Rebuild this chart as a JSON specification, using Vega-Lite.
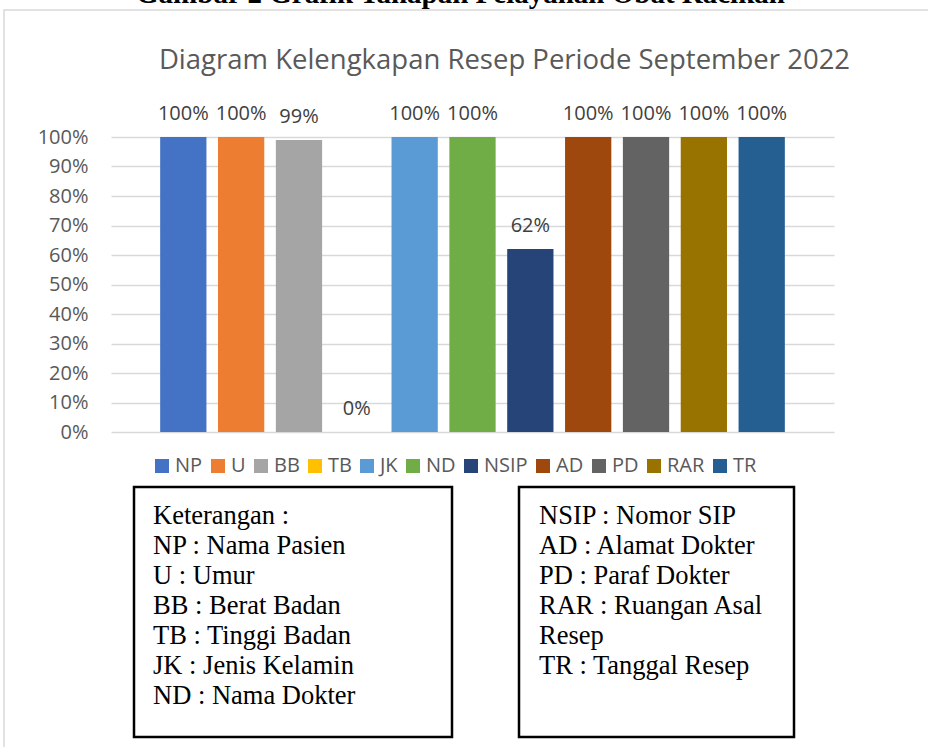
{
  "$schema": "https://vega.github.io/schema/vega-lite/v6.json",
  "autosize": {"type": "pad"},
  "padding": {"left": 3, "top": -20, "right": 0, "bottom": 0},
  "background": "white",
  "title": {
    "text": "Gambar 2 Grafik Tahapan Pelayanan Obat Racikan",
    "font": "Liberation Serif",
    "fontSize": 29,
    "fontWeight": "bold",
    "color": "#000000",
    "anchor": "middle",
    "dx": -22,
    "offset": 0
  },
  "config": {
    "view": {"stroke": null},
    "font": "Open Sans"
  },
  "resolve": {"legend": {"color": "independent"}, "scale": {"color": "independent"}},
  "bounds": "flush",
  "spacing": 55,
  "vconcat": [
    {
      "width": 723,
      "height": 295,
      "title": {
        "text": "Diagram Kelengkapan Resep Periode September 2022",
        "font": "Open Sans",
        "fontSize": 27.5,
        "fontWeight": "normal",
        "color": "#595959",
        "anchor": "middle",
        "frame": "group",
        "dx": 32,
        "offset": 30
      },
      "data": {
        "values": [
          {"kategori": "NP", "nilai": 1.0},
          {"kategori": "U", "nilai": 1.0},
          {"kategori": "BB", "nilai": 0.99},
          {"kategori": "TB", "nilai": 0.0},
          {"kategori": "JK", "nilai": 1.0},
          {"kategori": "ND", "nilai": 1.0},
          {"kategori": "NSIP", "nilai": 0.62},
          {"kategori": "AD", "nilai": 1.0},
          {"kategori": "PD", "nilai": 1.0},
          {"kategori": "RAR", "nilai": 1.0},
          {"kategori": "TR", "nilai": 1.0}
        ]
      },
      "encoding": {
        "x": {
          "field": "kategori",
          "type": "nominal",
          "sort": null,
          "scale": {"paddingInner": 0.2, "paddingOuter": 0.85},
          "axis": null
        },
        "y": {
          "field": "nilai",
          "type": "quantitative",
          "scale": {"domain": [0, 1], "nice": false},
          "axis": {
            "title": null,
            "format": ".0%",
            "values": [0, 0.1, 0.2, 0.3, 0.4, 0.5, 0.6, 0.7, 0.8, 0.9, 1.0],
            "domain": false,
            "ticks": false,
            "labelPadding": 23,
            "labelFont": "Open Sans",
            "labelFontSize": 20,
            "labelColor": "#595959",
            "gridColor": "#D9D9D9",
            "gridWidth": 1.5
          }
        }
      },
      "layer": [
        {
          "mark": {"type": "bar"},
          "encoding": {
            "color": {
              "field": "kategori",
              "type": "nominal",
              "sort": null,
              "scale": {
                "domain": ["NP", "U", "BB", "TB", "JK", "ND", "NSIP", "AD", "PD", "RAR", "TR"],
                "range": ["#4472C4", "#ED7D31", "#A5A5A5", "#FFC000", "#5B9BD5", "#70AD47", "#264478", "#9E480E", "#636363", "#997300", "#255E91"]
              },
              "legend": {
                "orient": "none",
                "legendX": 41,
                "legendY": 319,
                "direction": "horizontal",
                "title": null,
                "symbolType": "square",
                "symbolSize": 196,
                "symbolStrokeWidth": 0,
                "symbolOpacity": 1,
                "labelFont": "Open Sans",
                "labelFontSize": 20,
                "labelColor": "#595959",
                "labelOffset": 3,
                "columnPadding": 5
              }
            }
          }
        },
        {
          "mark": {
            "type": "text",
            "baseline": "alphabetic",
            "dy": -17,
            "font": "Open Sans",
            "fontSize": 20,
            "color": "#404040"
          },
          "encoding": {
            "text": {"field": "nilai", "type": "quantitative", "format": ".0%"}
          }
        }
      ]
    },
    {
      "spacing": 22,
      "bounds": "flush",
      "hconcat": [
        {
          "width": 1,
          "height": 250,
          "data": {"values": [{"bagian": "bingkai"}]},
          "mark": {"type": "rect", "filled": false, "stroke": "#D9D9D9", "strokeWidth": 1.5},
          "encoding": {
            "x": {"datum": -107, "type": "quantitative", "scale": {"domain": [0, 1], "nice": false, "zero": false}, "axis": null},
            "x2": {"datum": 850},
            "y": {"datum": 2.908, "type": "quantitative", "scale": {"domain": [0, 1], "nice": false, "zero": false}, "axis": null},
            "y2": {"datum": -0.1}
          }
        },
        {
          "width": 318,
          "height": 250,
          "view": {"stroke": "#000000", "strokeWidth": 2.5},
          "data": {
            "values": [
              {"baris": 1, "teks": "Keterangan :"},
              {"baris": 2, "teks": "NP : Nama Pasien"},
              {"baris": 3, "teks": "U : Umur"},
              {"baris": 4, "teks": "BB : Berat Badan"},
              {"baris": 5, "teks": "TB : Tinggi Badan"},
              {"baris": 6, "teks": "JK : Jenis Kelamin"},
              {"baris": 7, "teks": "ND : Nama Dokter"}
            ]
          },
          "mark": {
            "type": "text",
            "align": "left",
            "baseline": "alphabetic",
            "font": "Liberation Serif",
            "fontSize": 26.5,
            "color": "#000000",
            "dx": 19
          },
          "encoding": {
            "x": {"datum": 0, "type": "quantitative", "scale": {"domain": [0, 1], "nice": false}, "axis": null},
            "y": {"field": "baris", "type": "quantitative", "scale": {"domain": [-0.233, 8.1], "reverse": true, "nice": false, "zero": false}, "axis": null},
            "text": {"field": "teks"}
          }
        },
        {
          "width": 23,
          "height": 250,
          "data": {"values": []},
          "mark": "point"
        },
        {
          "width": 275,
          "height": 250,
          "view": {"stroke": "#000000", "strokeWidth": 2.5},
          "data": {
            "values": [
              {"baris": 1, "teks": "NSIP : Nomor SIP"},
              {"baris": 2, "teks": "AD : Alamat Dokter"},
              {"baris": 3, "teks": "PD : Paraf Dokter"},
              {"baris": 4, "teks": "RAR : Ruangan Asal"},
              {"baris": 5, "teks": "Resep"},
              {"baris": 6, "teks": "TR : Tanggal Resep"}
            ]
          },
          "mark": {
            "type": "text",
            "align": "left",
            "baseline": "alphabetic",
            "font": "Liberation Serif",
            "fontSize": 26.5,
            "color": "#000000",
            "dx": 20
          },
          "encoding": {
            "x": {"datum": 0, "type": "quantitative", "scale": {"domain": [0, 1], "nice": false}, "axis": null},
            "y": {"field": "baris", "type": "quantitative", "scale": {"domain": [-0.233, 8.1], "reverse": true, "nice": false, "zero": false}, "axis": null},
            "text": {"field": "teks"}
          }
        }
      ]
    }
  ]
}
